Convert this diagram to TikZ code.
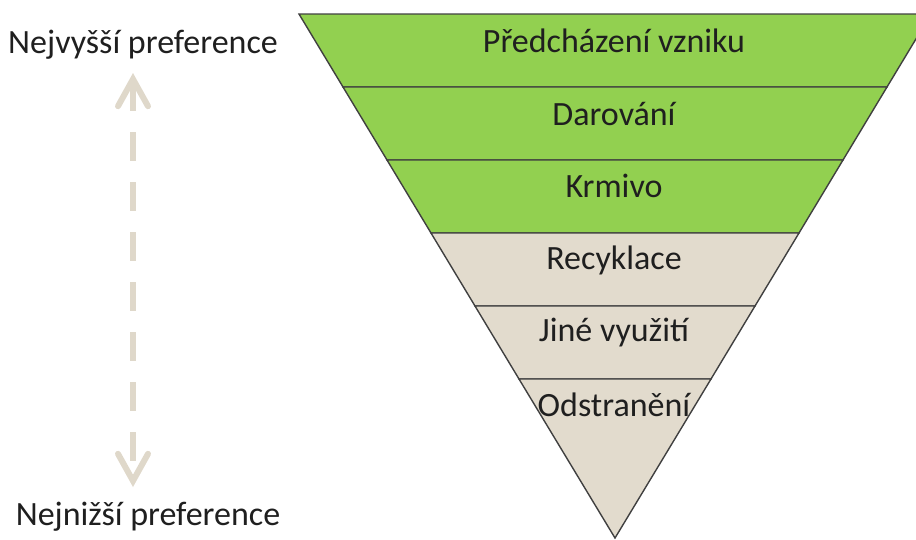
\documentclass[tikz,border=0pt]{standalone}
\usepackage{fontspec}
\setmainfont{Carlito}
\usetikzlibrary{arrows.meta,positioning}

\definecolor{leafgreen}{RGB}{146,208,80}
\definecolor{wastetan}{RGB}{226,219,205}
\definecolor{arrowtan}{RGB}{223,216,202}
\definecolor{edgegray}{RGB}{64,64,64}

\begin{document}
\begin{tikzpicture}[
      x=1pt, y=-1pt,
      font=\fontsize{34}{40}\selectfont,
      band/.style={
        draw=edgegray,
        line width=1.4pt,
        line join=miter
      },
      green band/.style={band, fill=leafgreen},
      tan band/.style={band, fill=wastetan},
      label/.style={
        inner sep=0pt,
        text=black!88,
        anchor=base
      },
      pref/.style={
        draw=arrowtan,
        line width=6pt,
        dash pattern=on 29pt off 21pt,
        {Straight Barb[length=27pt,width=30pt,line cap=round]}-{Straight Barb[length=27pt,width=30pt,line cap=round]}
      }
    ]
    \useasboundingbox (0,0) rectangle (916,539);
    \clip (0,0) rectangle (916,539);

    % pyramid bands, top to bottom
    \path[green band] (299,14) -- (931,14) -- (887,87) -- (343,87) -- cycle;
    \path[green band] (343,87) -- (887,87) -- (843,160) -- (387,160) -- cycle;
    \path[green band] (387,160) -- (843,160) -- (799,233) -- (431,233) -- cycle;
    \path[tan band] (431,233) -- (799,233) -- (755,306) -- (475,306) -- cycle;
    \path[tan band] (475,306) -- (755,306) -- (711,379) -- (519,379) -- cycle;
    \path[tan band] (519,379) -- (711,379) -- (615,538) -- cycle;

    \node[label] (prevent) at (614,52) {Předcházení vzniku};
    \node[label] (donate) at (614,125) {Darování};
    \node[label] (feed) at (614,197) {Krmivo};
    \node[label] (recycle) at (614,269) {Recyklace};
    \node[label] (otheruse) at (614,341) {Jiné využití};
    \node[label] (dispose) at (614,416) {Odstranění};

    % preference scale
    \node[label] (highest) at (143,53) {Nejvyšší preference};
    \node[label] (lowest) at (148,525) {Nejnižší preference};
    \coordinate (scaletop) at (133,73);
    \coordinate (scalebottom) at (133,487);
    \draw[pref] (scaletop) -- (scalebottom);
    \end{tikzpicture}
\end{document}
